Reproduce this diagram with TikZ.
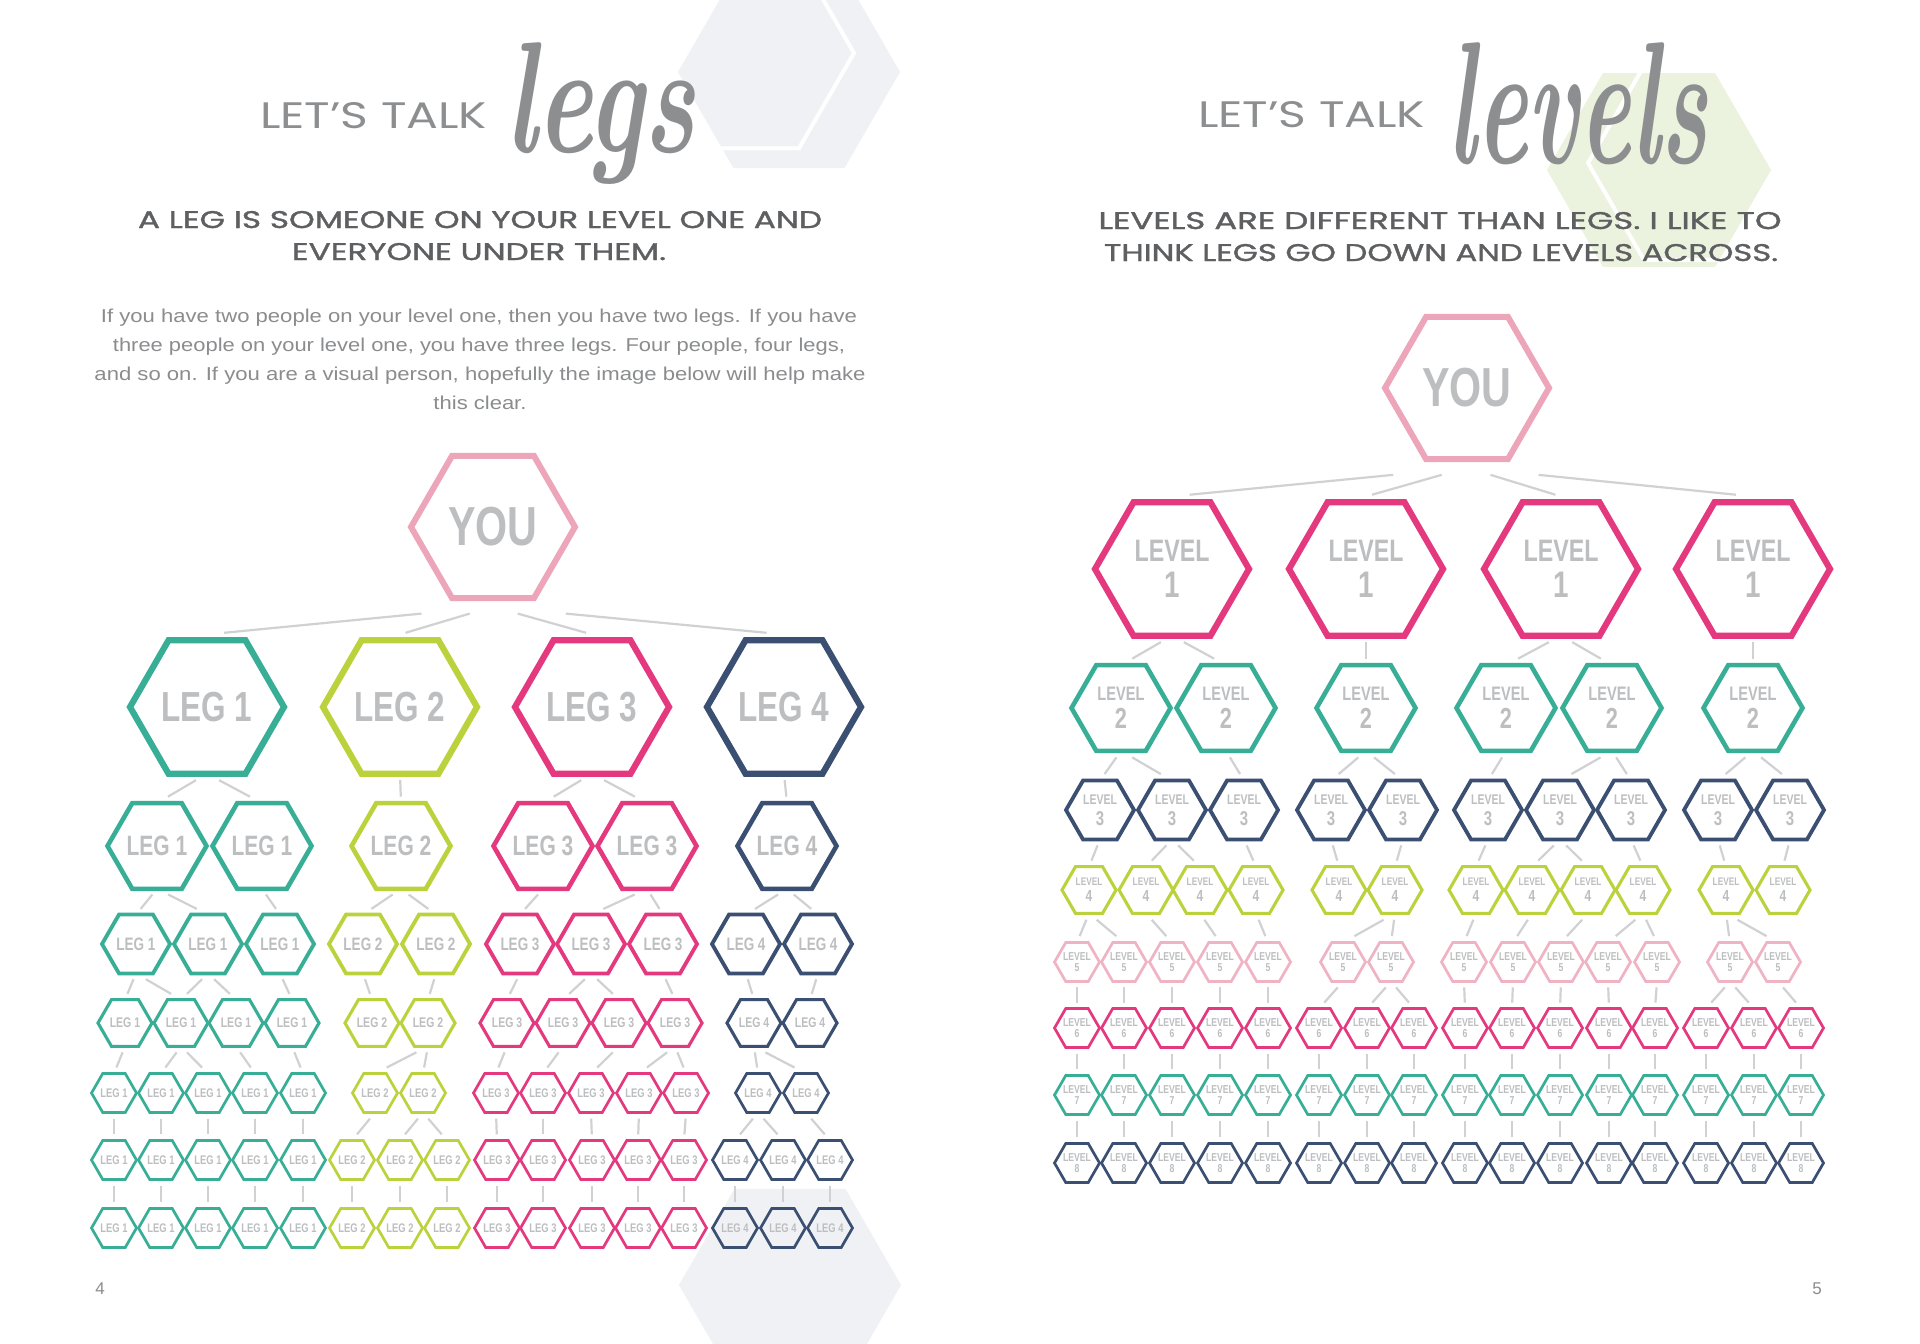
\documentclass[tikz,border=0pt]{standalone}
\usepackage{fontspec}
\usepackage{graphicx}
\usetikzlibrary{shapes.geometric,calc}

\newfontfamily\headfont{Poppins}
\newfontfamily\headmedfont[FakeBold=1.2]{Poppins}
\newfontfamily\bodyfont{Liberation Sans}

\definecolor{hexteal}{HTML}{38AE97}
\definecolor{hexlime}{HTML}{BCD23C}
\definecolor{hexmag}{HTML}{E4387F}
\definecolor{hexnavy}{HTML}{3A4F71}
\definecolor{youpink}{HTML}{EDA5B9}
\definecolor{lvpink}{HTML}{EFB3C4}
\colorlet{leg1}{hexteal}
\colorlet{leg2}{hexlime}
\colorlet{leg3}{hexmag}
\colorlet{leg4}{hexnavy}
\definecolor{labgray}{HTML}{BCBEC0}
\definecolor{linegray}{HTML}{D0D1D2}
\definecolor{titlegray}{HTML}{8C8E90}
\definecolor{headgray}{HTML}{5E5F61}
\definecolor{bodygray}{HTML}{8B8C8E}
\definecolor{bggray}{HTML}{EFF1F4}
\definecolor{bggreen}{HTML}{EBF2DD}

\newcommand\cond[1]{\scalebox{.75}[1]{#1}}
\newcommand\labfont[2]{\bodyfont\bfseries\fontsize{#1}{#2}\selectfont}
\newcommand\hexlink[2]{\draw[link] ($(#1.south)!.22!(#2.north)$) -- ($(#2.north)!.22!(#1.south)$);}
\newcommand\youlink[2]{\draw[link] ($(#1.south)!.25!(#2.north)+(0,5)$) -- ($(#2.north)!.06!(#1.south)+(0,-5)$);}

\tikzset{
  hex/.style={regular polygon, regular polygon sides=6, inner sep=0pt, outer sep=0pt, draw},
  lab/.style={text=labgray, inner sep=0pt, align=center},
  link/.style={draw=linegray, line width=2.2pt},
  bghex/.style={regular polygon, regular polygon sides=6, inner sep=0pt, draw=none},
  hexY/.style={hex, minimum size=164pt, line width=6pt, draw=youpink,
    label={[lab, font=\labfont{55}{55}]center:\cond{YOU}}},
  hexA/.style={hex, minimum size=154pt, line width=6.2pt},
  hexB/.style={hex, minimum size=99pt, line width=4.6pt},
  hexC/.style={hex, minimum size=68pt, line width=3.8pt},
  hexD/.style={hex, minimum size=54pt, line width=3.1pt},
  hexE/.style={hex, minimum size=45pt, line width=2.7pt},
  % legs
  legA/.style={hexA, draw=leg#1, label={[lab, font=\labfont{42}{42}]center:\cond{LEG #1}}},
  legB/.style={hexB, draw=leg#1, label={[lab, font=\labfont{28}{28}]center:\cond{LEG #1}}},
  legC/.style={hexC, draw=leg#1, label={[lab, font=\labfont{18}{18}]center:\cond{LEG #1}}},
  legD/.style={hexD, draw=leg#1, label={[lab, font=\labfont{14}{14}]center:\cond{LEG #1}}},
  legE/.style={hexE, draw=leg#1, label={[lab, font=\labfont{12.5}{12.5}]center:\cond{LEG #1}}},
  % levels
  lvA/.style={hexA, draw=hexmag,
    label={[lab, font=\labfont{31}{36}]center:\cond{LEVEL}\\{\fontsize{37}{36}\selectfont\cond{1}}}},
  lvB/.style={hexB, draw=hexteal,
    label={[lab, font=\labfont{19.5}{28}]center:\cond{LEVEL}\\{\fontsize{29}{28}\selectfont\cond{2}}}},
  lvC/.style={hexC, draw=hexnavy,
    label={[lab, font=\labfont{14}{21}]center:\cond{LEVEL}\\{\fontsize{20}{21}\selectfont\cond{3}}}},
  lvD/.style={hexD, draw=hexlime,
    label={[lab, font=\labfont{11}{16}]center:\cond{LEVEL}\\{\fontsize{16}{16}\selectfont\cond{4}}}},
  lvE/.style 2 args={hexE, draw=#1,
    label={[lab, font=\labfont{11.5}{11.5}]center:\cond{LEVEL}\\\cond{#2}}},
}

\begin{document}
\begin{tikzpicture}[x=1pt,y=-1pt]
\useasboundingbox (0,0) rectangle (1920,1344);
\fill[white] (0,0) rectangle (1920,1344);

%background hexagons
\node[bghex, fill=bggray, minimum size=222pt] (bgtop) at (789,72) {};
\node[bghex, draw=white, line width=4pt, minimum size=220pt] (bgtopring) at (744,53) {};
\node[bghex, fill=bggray, minimum size=222pt] (bgbottom) at (790,1285) {};
\node[bghex, fill=bggreen, minimum size=224pt] (bggreen) at (1659,170) {};
\node[bghex, draw=white, line width=4pt, minimum size=224pt] (bggreenring) at (1700,163) {};

%titles
\node[anchor=base west, inner sep=0pt, text=titlegray] (talkL) at (260,128)
  {\resizebox{227pt}{26pt}{\headfont LET’S TALK}};
\node[anchor=base west, inner sep=0pt, text=titlegray] (legs) at (505,152)
  {\resizebox{190pt}{110pt}{\bfseries\itshape legs}};
\node[anchor=base west, inner sep=0pt, text=titlegray] (talkR) at (1198,127)
  {\resizebox{227pt}{26pt}{\headfont LET’S TALK}};
\node[anchor=base west, inner sep=0pt, text=titlegray] (levels) at (1447,163)
  {\resizebox{260pt}{121pt}{\bfseries\itshape levels}};

%headlines
\node[anchor=base, inner sep=0pt, text=headgray] (headL1) at (480,228)
  {\resizebox{684pt}{17pt}{\headmedfont A LEG IS SOMEONE ON YOUR LEVEL ONE AND}};
\node[anchor=base, inner sep=0pt, text=headgray] (headL2) at (479,260)
  {\resizebox{374pt}{17pt}{\headmedfont EVERYONE UNDER THEM.}};
\node[anchor=base, inner sep=0pt, text=headgray] (headR1) at (1440,229)
  {\resizebox{683pt}{17pt}{\headmedfont LEVELS ARE DIFFERENT THAN LEGS. I LIKE TO}};
\node[anchor=base, inner sep=0pt, text=headgray] (headR2) at (1441,261)
  {\resizebox{674pt}{17pt}{\headmedfont THINK LEGS GO DOWN AND LEVELS ACROSS.}};

%body text
\node[anchor=base, inner sep=0pt, text=bodygray] (body1) at (479,322)
  {\resizebox{756pt}{13.5pt}{\bodyfont If you have two people on your level one, then you have two legs. If you have}};
\node[anchor=base, inner sep=0pt, text=bodygray] (body2) at (479,351)
  {\resizebox{732pt}{13.5pt}{\bodyfont three people on your level one, you have three legs. Four people, four legs,}};
\node[anchor=base, inner sep=0pt, text=bodygray] (body3) at (480,380)
  {\resizebox{771pt}{13.5pt}{\bodyfont and so on. If you are a visual person, hopefully the image below will help make}};
\node[anchor=base, inner sep=0pt, text=bodygray] (body4) at (480,409)
  {\resizebox{93pt}{13.5pt}{\bodyfont this clear.}};

%page numbers
\node[text=bodygray, font=\bodyfont\fontsize{17}{17}\selectfont] (page4) at (100,1289) {4};
\node[text=bodygray, font=\bodyfont\fontsize{17}{17}\selectfont] (page5) at (1817,1289) {5};

%legs tree
\node[hexY] (youL) at (493,527) {};
\foreach \x [count=\i] in {207,400,592,784}
  \node[legA=\i] (g1-\i) at (\x,707) {};
\foreach \x/\l [count=\i] in {157/1,262/1,401/2,543/3,647/3,787/4}
  \node[legB=\l] (g2-\i) at (\x,846) {};
\foreach \x/\l [count=\i] in {136/1,208/1,280/1,363/2,436/2,520/3,591/3,663/3,746/4,818/4}
  \node[legC=\l] (g3-\i) at (\x,944) {};
\foreach \x/\l [count=\i] in {125/1,181/1,236/1,292/1,372/2,428/2,507/3,563/3,619/3,675/3,754/4,810/4}
  \node[legD=\l] (g4-\i) at (\x,1023) {};
\foreach \x/\l [count=\i] in {114/1,161/1,208/1,255/1,303/1,375/2,423/2,496/3,543/3,591/3,639/3,686/3,758/4,806/4}
  \node[legE=\l] (g5-\i) at (\x,1093) {};
\foreach \y/\r in {1160/6,1228/7}
  \foreach \x/\l [count=\i] in {114/1,161/1,208/1,255/1,303/1,352/2,400/2,447/2,497/3,543/3,592/3,638/3,684/3,735/4,783/4,830/4}
    \node[legE=\l] (g\r-\i) at (\x,\y) {};

\foreach \c in {1,...,4} {\youlink{youL}{g1-\c}}
\foreach \p/\c in {1/1,1/2,2/3,3/4,3/5,4/6} {\hexlink{g1-\p}{g2-\c}}
\foreach \p/\c in {1/1,1/2,2/3,3/4,3/5,4/6,5/7,5/8,6/9,6/10} {\hexlink{g2-\p}{g3-\c}}
\foreach \p/\c in {1/1,1/2,2/2,2/3,3/4,4/5,5/6,6/7,7/8,7/9,8/10,9/11,10/12} {\hexlink{g3-\p}{g4-\c}}
\foreach \p/\c in {1/1,2/2,2/3,3/4,4/5,6/6,6/7,7/8,8/9,9/10,10/11,10/12,11/13,11/14} {\hexlink{g4-\p}{g5-\c}}
\foreach \p/\c in {1/1,2/2,3/3,4/4,5/5,6/6,7/7,7/8,8/9,9/10,10/11,11/12,12/13,13/14,13/15,14/16} {\hexlink{g5-\p}{g6-\c}}
\foreach \i in {1,...,16} {\hexlink{g6-\i}{g7-\i}}

%levels tree
\node[hexY] (youR) at (1467,388) {};
\foreach \x [count=\i] in {1172,1366,1561,1753}
  \node[lvA] (v1-\i) at (\x,569) {};
\foreach \x [count=\i] in {1121,1226,1366,1506,1612,1753}
  \node[lvB] (v2-\i) at (\x,708) {};
\foreach \x [count=\i] in {1100,1172,1244,1331,1403,1488,1560,1631,1718,1790}
  \node[lvC] (v3-\i) at (\x,810) {};
\foreach \x [count=\i] in {1089,1146,1200,1256,1339,1395,1476,1532,1588,1643,1726,1783}
  \node[lvD] (v4-\i) at (\x,890) {};
\foreach \x [count=\i] in {1077,1124,1172,1220,1268,1343,1391,1464,1513,1561,1608,1657,1730,1778}
  \node[lvE={lvpink}{5}] (v5-\i) at (\x,962) {};
\foreach \y/\r/\c in {1028/6/hexmag,1095/7/hexteal,1163/8/hexnavy}
  \foreach \x [count=\i] in {1077,1124,1172,1220,1268,1319,1367,1414,1465,1512,1560,1609,1655,1706,1754,1801}
    \node[lvE={\c}{\r}] (v\r-\i) at (\x,\y) {};

\foreach \c in {1,...,4} {\youlink{youR}{v1-\c}}
\foreach \p/\c in {1/1,1/2,2/3,3/4,3/5,4/6} {\hexlink{v1-\p}{v2-\c}}
\foreach \p/\c in {1/1,1/2,2/3,3/4,3/5,4/6,5/7,5/8,6/9,6/10} {\hexlink{v2-\p}{v3-\c}}
\foreach \p/\c in {1/1,2/2,2/3,3/4,4/5,5/6,6/7,7/8,7/9,8/10,9/11,10/12} {\hexlink{v3-\p}{v4-\c}}
\foreach \p/\c in {1/1,1/2,2/3,3/4,4/5,6/6,6/7,7/8,8/9,9/10,10/11,10/12,11/13,11/14} {\hexlink{v4-\p}{v5-\c}}
\foreach \p/\c in {1/1,2/2,3/3,4/4,5/5,6/6,7/7,7/8,8/9,9/10,10/11,11/12,12/13,13/14,13/15,14/16} {\hexlink{v5-\p}{v6-\c}}
\foreach \i in {1,...,16} {\hexlink{v6-\i}{v7-\i} \hexlink{v7-\i}{v8-\i}}
\end{tikzpicture}
\end{document}
